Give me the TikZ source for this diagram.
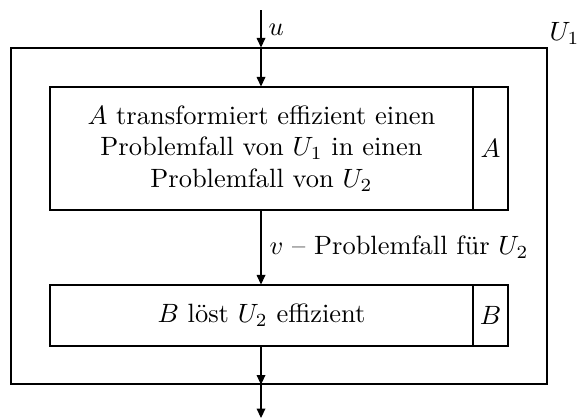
\documentclass[tikz,border=0pt]{standalone}
\usetikzlibrary{arrows.meta,fit}
\begin{document}
\begin{tikzpicture}[x=0.378pt,y=-0.378pt,
  box/.style={draw,inner sep=0pt,line width=0.4pt},
  flow/.style={-{Triangle[length=3.6pt,width=3.3pt]},line width=0.4pt},
  lbl/.style={inner sep=0pt,anchor=west}]
\useasboundingbox (0,0) rectangle (577,418);
\coordinate (p1) at (11,48); \coordinate (p2) at (547,384);
\coordinate (a1) at (50,87); \coordinate (a2) at (473,210);
\coordinate (a3) at (508,87);
\coordinate (b1) at (50,285); \coordinate (b2) at (473,346);
\coordinate (b3) at (508,285);
\node[box,fit=(p1)(p2)] (outer) {};
\node[box,fit=(a1)(a2)] (A) {};
\node[box,fit=(a2)(a3)] (Atag) {};
\node[box,fit=(b1)(b2)] (B) {};
\node[box,fit=(b2)(b3)] (Btag) {};
\node[align=center] (Atext) at (A.center) {$A$ transformiert effizient einen\\Problemfall von $U_1$ in einen\\Problemfall von $U_2$};
\node (Atagtext) at (Atag.center) {$A$};
\node (Btext) at (B.center) {$B$ löst $U_2$ effizient};
\node (Btagtext) at (Btag.center) {$B$};
\coordinate (top) at (261,10);
\coordinate (bot) at (261,418);
\node[lbl] (u) at (268,30) {$u$};
\node[lbl] (U1) at (549,33) {$U_1$};
\node[lbl] (v) at (269,247) {$v$ -- Problemfall für $U_2$};
\draw[flow] (top) -- (top |- outer.north);
\draw[flow] (top |- outer.north) -- (top |- A.north);
\draw[flow] (top |- A.south) -- (top |- B.north);
\draw[flow] (top |- B.south) -- (top |- outer.south);
\draw[flow] (top |- outer.south) -- (bot);
\end{tikzpicture}
\end{document}
